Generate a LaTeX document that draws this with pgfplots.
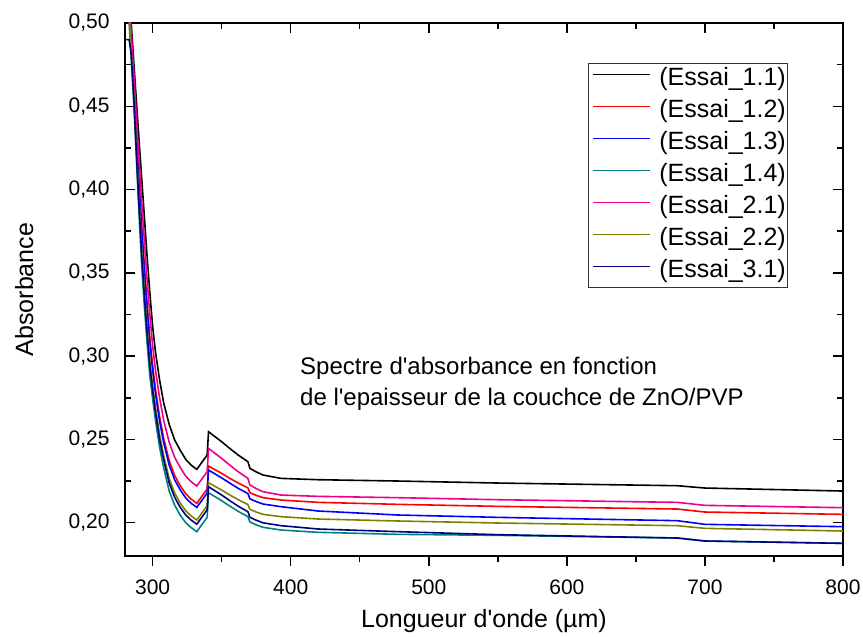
\documentclass[border=0pt]{standalone}
\usepackage{fontspec}
\setmainfont{Liberation Sans}
\usepackage{pgfplots}
\pgfplotsset{compat=1.18}
\usepackage{pgfplotstable}

\definecolor{cTeal}{RGB}{0,128,128}
\definecolor{cOlive}{RGB}{128,128,0}
\definecolor{cNavy}{RGB}{0,0,128}

% absorbance, one column per sample
\pgfplotstableread{
x      e11     e12     e13     e14     e21     e22     e31
280.3  nan     nan     nan     nan     nan     nan     0.49
283    0.52    0.5091  0.5078  0.50    0.5147  0.5037  0.49
284.5  0.50    0.4886  0.4872  0.479   0.4944  0.4829  0.4815
286.5  0.475   0.4614  0.4598  0.45    0.4683  0.4547  0.453
288.5  0.45    0.4304  0.428   0.414   0.4404  0.4207  0.4183
290    0.432   0.408   0.4052  0.388   0.4203  0.3962  0.3933
292    0.408   0.3797  0.3763  0.356   0.3941  0.3657  0.3622
294    0.384   0.3546  0.3511  0.33    0.3696  0.3401  0.3365
296    0.36    0.3317  0.3283  0.308   0.3461  0.3177  0.3142
298    0.338   0.3108  0.3075  0.288   0.3247  0.2974  0.294
300    0.318   0.2943  0.2915  0.2745  0.3064  0.2826  0.2797
302    0.303   0.2807  0.278   0.262   0.2921  0.2697  0.2669
305    0.286   0.2639  0.2613  0.2455  0.2752  0.2531  0.2504
308    0.272   0.2507  0.2482  0.233   0.2616  0.2403  0.2377
312    0.259   0.2372  0.2346  0.219   0.2483  0.2265  0.2238
316    0.2496  0.2283  0.2257  0.2105  0.2392  0.2178  0.2152
320    0.2435  0.2222  0.2197  0.2045  0.2331  0.2118  0.2092
324    0.238   0.2173  0.2148  0.2     0.2279  0.2071  0.2046
328    0.2345  0.2141  0.2116  0.197   0.2245  0.204   0.2015
332    0.232   0.2116  0.2092  0.1946  0.222   0.2016  0.1991
339.5  0.2406  0.2202  0.2178  0.2032  0.2306  0.2102  0.2077
340.5  0.2546  0.234   0.2316  0.218   0.2446  0.224   0.2216
350    0.2486  0.2296  0.2269  0.2132  0.2386  0.2196  0.2166
356    0.2445  0.2266  0.2237  0.2099  0.2345  0.2166  0.2132
362    0.2406  0.2238  0.2206  0.2068  0.2306  0.2138  0.2099
369    0.2366  0.2209  0.2175  0.2036  0.2266  0.2109  0.2066
370.5  0.2326  0.2180  0.2143  0.2004  0.2226  0.2080  0.2032
375    0.2305  0.2164  0.2127  0.1987  0.2205  0.2064  0.2015
380    0.2286  0.2150  0.2112  0.1972  0.2186  0.2050  0.1999
393    0.2266  0.2136  0.2096  0.1956  0.2166  0.2036  0.1982
420    0.2258  0.2122  0.207   0.1942  0.2158  0.2022  0.1962
478    0.225   0.211   0.2046  0.193   0.215   0.201   0.1946
550    0.2238  0.2098  0.2032  0.1924  0.2138  0.1998  0.1928
680    0.2222  0.2082  0.2012  0.1908  0.2122  0.1982  0.1908
700    0.2208  0.2064  0.199   0.189   0.2104  0.1966  0.189
800    0.219   0.205   0.1976  0.1876  0.209   0.195   0.1876
}\spectra

\begin{document}
\begin{tikzpicture}
\pgfplotsset{
  common/.style={
    at={(0pt,0pt)}, anchor=south west,
    scale only axis, width=718pt, height=533pt,
    xmin=280, xmax=800, ymin=0.18, ymax=0.50,
    xtick={300,400,500,600,700,800}, minor x tick num=1,
    axis line style={line width=1.5pt},
    tick style={line width=1.5pt, black},
    major tick length=10pt, minor tick length=6pt,
    tick label style={font=\fontsize{21}{24}\selectfont},
    /pgf/number format/assume math mode=true,
  }
}
% bottom x axis, ticks pointing out
\begin{axis}[common,
  axis y line=none, axis x line*=bottom,
  tick align=outside,
  xticklabel style={yshift=-10pt},
  xlabel={Longueur d\textquotesingle onde (µm)},
  xlabel style={font=\fontsize{25}{30}\selectfont, at={(axis description cs:0.5,0)}, anchor=base, yshift=-72pt},
]
\addplot[draw=none] coordinates {(300,0.3)};
\end{axis}
% main axis
\begin{axis}[common,
  tick align=inside,
  xtick pos=right, xticklabels={},
  ytick={0.20,0.25,0.30,0.35,0.40,0.45,0.50}, minor y tick num=1,
  ytick pos=both,
  yticklabel style={xshift=-12pt, /pgf/number format/.cd, fixed, fixed zerofill, precision=2, use comma},
  ylabel={Absorbance},
  ylabel style={font=\fontsize{25}{30}\selectfont, at={(axis description cs:-0.1281,0.5)}, anchor=base},
  legend cell align=left,
  legend style={at={(axis description cs:0.6448,0.925)}, anchor=north west,
    draw=black!80, line width=0.8pt, inner xsep=2pt, inner ysep=0pt,
    font=\fontsize{25}{30}\selectfont,
    nodes={inner xsep=0pt, inner ysep=4pt, text height=18pt, text depth=6pt}},
  legend image code/.code={
    \path[draw=none, fill=none] (0pt,-12pt) rectangle (69pt,12pt);
    \draw[#1, line width=1.6pt] (3pt,4.7pt) -- (60pt,4.7pt);
  },
  every axis plot/.append style={line width=1.6pt},
]
\addplot[black] table[x=x, y=e11] {\spectra};
\addlegendentry{(Essai\_1.1)}
\addplot[red] table[x=x, y=e12] {\spectra};
\addlegendentry{(Essai\_1.2)}
\addplot[blue] table[x=x, y=e13] {\spectra};
\addlegendentry{(Essai\_1.3)}
\addplot[cTeal] table[x=x, y=e14] {\spectra};
\addlegendentry{(Essai\_1.4)}
\addplot[magenta] table[x=x, y=e21] {\spectra};
\addlegendentry{(Essai\_2.1)}
\addplot[cOlive] table[x=x, y=e22] {\spectra};
\addlegendentry{(Essai\_2.2)}
\addplot[cNavy] table[x=x, y=e31] {\spectra};
\addlegendentry{(Essai\_3.1)}
\end{axis}
\node[anchor=base west, inner sep=0pt, font=\fontsize{24}{30}\selectfont] at (175pt,181pt) {Spectre d\textquotesingle absorbance en fonction};
\node[anchor=base west, inner sep=0pt, font=\fontsize{24}{30}\selectfont] at (175pt,150pt) {de l\textquotesingle epaisseur de la couchce de ZnO/PVP};
\pgfresetboundingbox
\path[use as bounding box] (-125pt,-81pt) rectangle (738pt,556pt);
\end{tikzpicture}
\end{document}
